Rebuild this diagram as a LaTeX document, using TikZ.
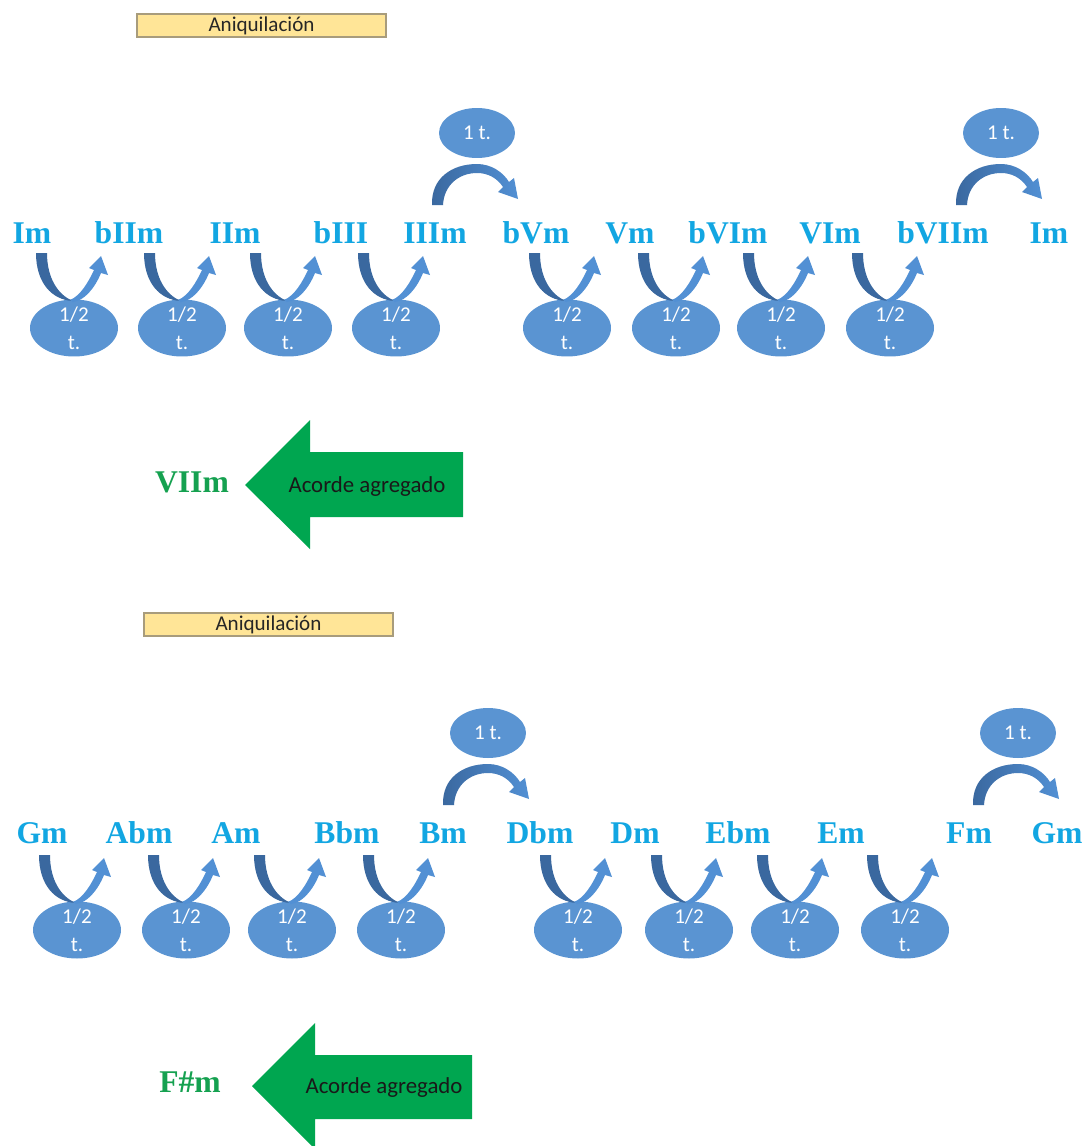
\documentclass[tikz,border=0pt]{standalone}
\usepackage{fontspec}
\setmainfont{Liberation Serif}
\newfontfamily\calfont{Carlito}
\usetikzlibrary{shapes.geometric}
\definecolor{chordc}{HTML}{12A6E2}
\definecolor{ellc}{HTML}{5A94D2}
\definecolor{arrdark}{HTML}{3A689F}
\definecolor{arrlight}{HTML}{5290D4}
\definecolor{grnc}{HTML}{00A650}
\definecolor{grntext}{HTML}{15A150}
\definecolor{lblfill}{HTML}{FFE597}
\definecolor{lbldraw}{HTML}{A89C7C}
\tikzset{
  chord/.style={font=\bfseries\fontsize{18}{20}\selectfont, text=chordc, anchor=base, inner sep=0pt},
  addchord/.style={font=\bfseries\fontsize{18}{20}\selectfont, text=grntext, inner sep=0pt},
  halfell/.style={ellipse, fill=ellc, minimum width=1.76cm, minimum height=1.14cm, inner sep=0pt},
  wholeell/.style={ellipse, fill=ellc, minimum width=1.52cm, minimum height=1.0cm, inner sep=0pt},
  elltxt/.style={text=white, font=\calfont\fontsize{12}{16}\selectfont, align=center, inner sep=0pt},
  lblbox/.style={draw=lbldraw, line width=0.6pt, fill=lblfill, minimum width=4.98cm, minimum height=0.46cm, inner sep=0pt, font=\calfont\fontsize{12}{13}\selectfont, text=black!85},
  addtxt/.style={font=\calfont\fontsize{13}{14}\selectfont, text=black!90, inner sep=0pt},
}
\newcommand\uarrow[1]{%
  \begin{scope}[shift={(#1.center)}]
    \fill[arrdark] (-38,-75) .. controls (-38,-45) and (-22,-28) .. (-1,-27)
      .. controls (-16,-33) and (-27,-50) .. (-27,-75) -- cycle;
    \fill[arrlight] (-4,-28) .. controls (6,-32) and (14,-45) .. (20,-58)
      -- (15,-60) -- (27,-72) -- (34,-53) -- (27,-55)
      .. controls (21,-40) and (10,-27) .. (-1,-26) -- cycle;
  \end{scope}}
\newcommand\archarrow[1]{%
  \begin{scope}[shift={(#1.center)}]
    \shade[left color=arrdark, right color=arrlight]
      (-45,72) .. controls (-46,45) and (-25,31) .. (0,31)
      .. controls (14,31) and (26,39) .. (32,49) -- (37,45) -- (41,66) -- (21,59) -- (26,54)
      .. controls (20,45) and (11,40) .. (0,40)
      .. controls (-18,40) and (-33,52) .. (-34,72) -- cycle;
  \end{scope}}
\begin{document}
\begin{tikzpicture}[x=0.02cm, y=-0.02cm]
\useasboundingbox (0,0) rectangle (1089,1146);
\fill[white] (0,0) rectangle (1089,1146);

% ---------- top section ----------
\node[lblbox] (lab1) at (261.5,25.5) {Aniquilación};

\foreach \xx/\lab [count=\n] in {32/Im,129/bIIm,235/IIm,341/bIII,435/IIIm,536/bVm,630/Vm,728/bVIm,830/VIm,943/bVIIm,1049/Im}
  \node[chord] (a\n) at (\xx,243) {\lab};

\foreach \xx [count=\n] in {74,182,288,396,567,676,781,890} {
  \node[halfell] (ha\n) at (\xx,328) {};
  \node[elltxt] (hat\n) at (ha\n) {1/2\\t.};
  \uarrow{ha\n}
}

\node[wholeell] (wa1) at (477,133) {};
\node[elltxt] (wat1) at (wa1) {1 t.};
\archarrow{wa1}
\node[wholeell] (wa2) at (1001,133) {};
\node[elltxt] (wat2) at (wa2) {1 t.};
\archarrow{wa2}

\fill[grnc] (245,485) -- (310,420) -- (310,452) -- (463,452) -- (463,517) -- (310,517) -- (310,549) -- cycle;
\node[addtxt] (ag1) at (367,487) {Acorde agregado};
\node[addchord] (add1) at (192,482) {VIIm};

% ---------- bottom section ----------
\node[lblbox] (lab2) at (268.5,624.5) {Aniquilación};

\foreach \xx/\lab [count=\n] in {42/Gm,139/Abm,236/Am,347/Bbm,443/Bm,540/Dbm,635/Dm,738/Ebm,841/Em,969/Fm,1057/Gm}
  \node[chord] (b\n) at (\xx,843) {\lab};

\foreach \xx [count=\n] in {77,186,292,401,578,689,795,905} {
  \node[halfell] (hb\n) at (\xx,930) {};
  \node[elltxt] (hbt\n) at (hb\n) {1/2\\t.};
  \uarrow{hb\n}
}

\node[wholeell] (wb1) at (488,733) {};
\node[elltxt] (wbt1) at (wb1) {1 t.};
\archarrow{wb1}
\node[wholeell] (wb2) at (1018,733) {};
\node[elltxt] (wbt2) at (wb2) {1 t.};
\archarrow{wb2}

\fill[grnc] (252,1086) -- (315,1023) -- (315,1055) -- (472,1055) -- (472,1119) -- (315,1119) -- (315,1149) -- cycle;
\node[addtxt] (ag2) at (384,1088) {Acorde agregado};
\node[addchord] (add2) at (190,1082) {F\#m};
\end{tikzpicture}
\end{document}
